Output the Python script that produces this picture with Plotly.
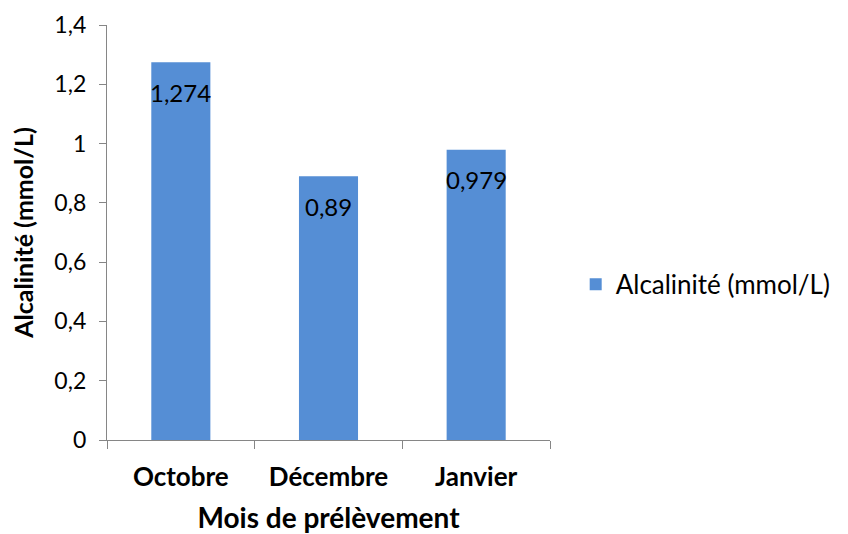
import plotly.graph_objects as go

months = ["Octobre", "Décembre", "Janvier"]
alcalinite = [1.274, 0.89, 0.979]
labels = ["1,274", "0,89", "0,979"]
y_ticks = [0, 0.2, 0.4, 0.6, 0.8, 1.0, 1.2, 1.4]
y_tick_text = ["0", "0,2", "0,4", "0,6", "0,8", "1", "1,2", "1,4"]

FONT = "Lato"
AXIS_COLOR = "#868686"
BAR_COLOR = "#558ED5"

fig = go.Figure()
fig.add_trace(go.Bar(
    x=months, y=alcalinite, name="Alcalinité (mmol/L)",
    marker=dict(color=BAR_COLOR, line=dict(width=0)),
))
for m, v, t in zip(months, alcalinite, labels):
    fig.add_annotation(x=m, y=v, text=t, showarrow=False, yanchor="middle",
                       yshift=-30, font=dict(family=FONT, size=24, color="black"))

fig.update_layout(
    width=848, height=534,
    margin=dict(l=107, r=295, t=25, b=94),
    paper_bgcolor="white", plot_bgcolor="white",
    bargap=0.6,
    font=dict(family=FONT, color="black"),
    showlegend=True,
    legend=dict(x=1.058, y=0.375, xanchor="left", yanchor="middle",
                font=dict(family=FONT, size=26, color="black"),
                itemwidth=30, borderwidth=0),
)
fig.update_xaxes(
    showline=True, linecolor=AXIS_COLOR, linewidth=1.3,
    ticks="outside", tickson="boundaries", ticklen=8, tickcolor=AXIS_COLOR,
    tickfont=dict(family=FONT, size=26, color="black", weight="bold"),
    ticklabelstandoff=14,
    title=dict(text="<b>Mois de prélèvement</b>", font=dict(family=FONT, size=28, color="black"), standoff=18),
    showgrid=False, automargin=False,
)
fig.update_yaxes(
    range=[0, 1.4], tickvals=y_ticks, ticktext=y_tick_text,
    showline=True, linecolor=AXIS_COLOR, linewidth=1.3,
    ticks="outside", ticklen=7, tickcolor=AXIS_COLOR,
    tickfont=dict(family=FONT, size=23, color="black"),
    ticklabelstandoff=8,
    title=dict(text="<b>Alcalinité (mmol/L)</b>", font=dict(family=FONT, size=25, color="black"), standoff=13),
    showgrid=False, zeroline=False, automargin=False,
)
fig.write_html("out.html")
